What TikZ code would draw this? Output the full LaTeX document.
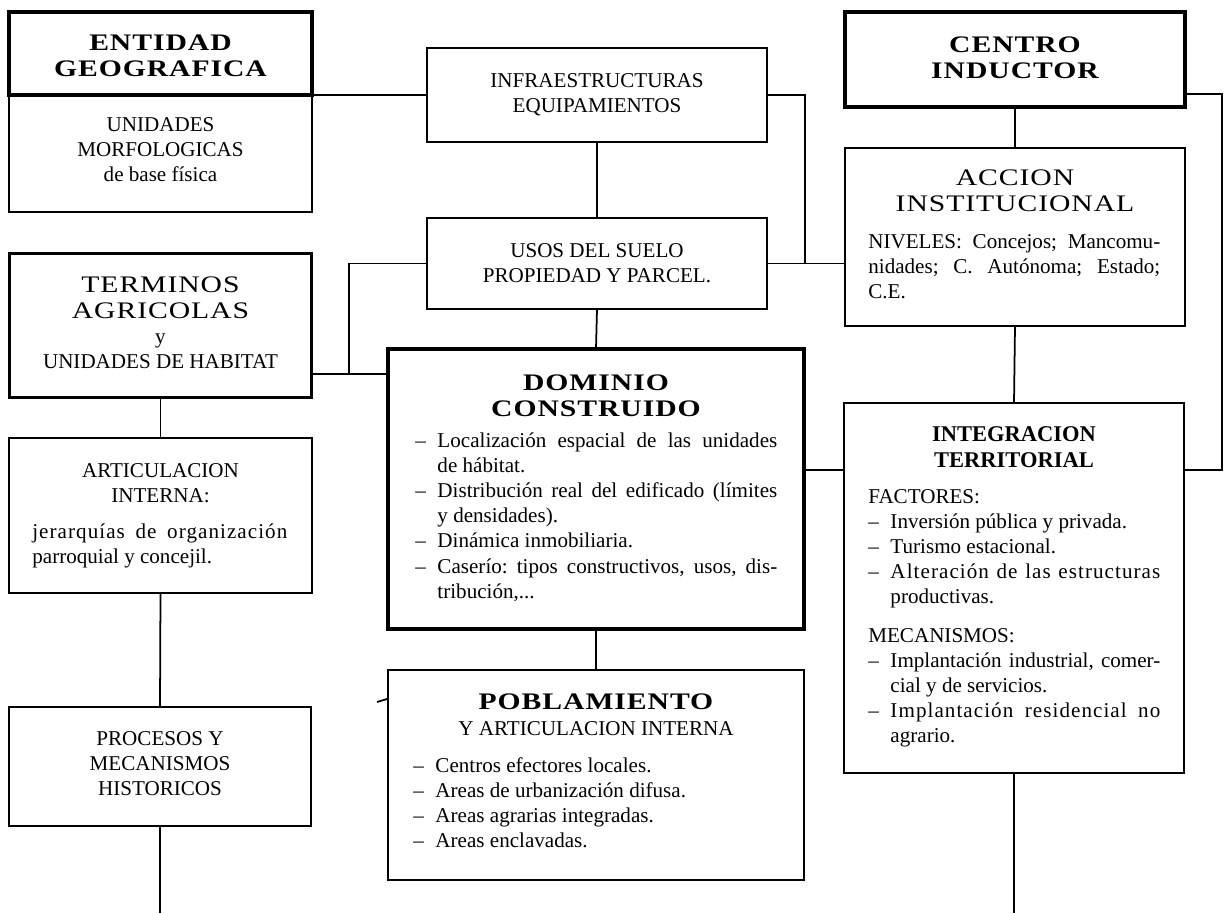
\documentclass[tikz,border=0pt]{standalone}
\usepackage{fontspec}
\setmainfont{Liberation Serif}
\newfontfamily\anchaf[FakeStretch=1.25,LetterSpace=4]{Liberation Serif}
\newfontfamily\espaciada[LetterSpace=5]{Liberation Serif}
\newcommand\cuerpo{\fontsize{12}{14.35}\selectfont}
\newcommand\titulo{\anchaf\bfseries\fontsize{13.5}{15.3}\selectfont}
\newcommand\tituloreg{\anchaf\fontsize{13.5}{14.8}\selectfont}
\newcommand\titulob{\bfseries\fontsize{12.8}{14.8}\selectfont}
\newcommand\esp{\spaceskip=.25em\relax\frenchspacing}
\newcommand\lleno[2]{\leavevmode\hbox to #1{\spaceskip=.25em plus 1em\relax #2}}
\newcommand\guion[1]{\makebox[1.05em][l]{–}#1}
\newcommand\guionlleno[2]{\leavevmode\hbox to #1{\spaceskip=.25em plus 1em\relax\makebox[1.05em][l]{–}#2}}
\newcommand\sigue[1]{\hspace*{1.05em}#1}

\begin{document}
\begin{tikzpicture}[x=0.02cm, y=-0.02cm,
    caja/.style={draw, line width=1.1pt, inner sep=0pt, outer sep=0pt},
    gruesa/.style={caja, line width=1.8pt},
    linea/.style={line width=1pt},
    txt/.style={inner sep=0pt, anchor=base, text width=#1, align=center, font=\cuerpo,
        execute at begin node=\esp},
    txt/.default=6cm,
    lista/.style={inner sep=0pt, anchor=base west, text width=#1, align=left, font=\cuerpo,
        execute at begin node=\esp}]
    \useasboundingbox (0,0) rectangle (1224,913); % 画布

    % 左列
    \node (entidad) at (160.5,53.5) [gruesa, minimum width=6.06cm, minimum height=1.66cm] {}; % 实体
    \node (unidades) at (160.5,153.5) [caja, line width=1.4pt, minimum width=6.06cm, minimum height=2.34cm] {};
    \node (terminos) at (160.5,325.5) [gruesa, line width=1.7pt, minimum width=6.06cm, minimum height=2.9cm] {};
    \node (artic) at (160.5,515.5) [caja, minimum width=6.06cm, minimum height=3.1cm] {};
    \node (procesos) at (160,766.5) [caja, minimum width=6.04cm, minimum height=2.38cm] {};

    % 中列
    \node (infra) at (597,95) [caja, minimum width=6.8cm, minimum height=1.88cm] {};
    \node (usos) at (597,263.5) [caja, minimum width=6.8cm, minimum height=1.82cm] {};
    \node (dominio) at (596,489) [gruesa, line width=2.3pt, minimum width=8.32cm, minimum height=5.6cm] {}; % 主框
    \node (pobla) at (596,775) [gruesa, line width=1.5pt, minimum width=8.32cm, minimum height=4.2cm] {};

    % 右列
    \node (centro) at (1015,59.5) [gruesa, minimum width=6.8cm, minimum height=1.9cm] {};
    \node (accion) at (1015,237) [caja, minimum width=6.8cm, minimum height=3.56cm] {};
    \node (integ) at (1014,588) [caja, minimum width=6.8cm, minimum height=7.4cm] {};

    % 文字
    \node (tEntidad) at (160.5,50) [txt, font=\titulo] {ENTIDAD\\GEOGRAFICA};
    \node (tUnidades) at (160.5,131) [txt] {UNIDADES\\MORFOLOGICAS\\de base física};
    \node (tTerminos) at (160.5,292) [txt, font=\tituloreg] {TERMINOS\\AGRICOLAS};
    \node (tHabitat) at (160.5,343) [txt] {y\\UNIDADES DE HABITAT};
    \node (tArtic) at (160.5,477) [txt] {ARTICULACION\\INTERNA:};
    \node (tJerarq) at (32,538) [lista=5.1cm] {\lleno{5.1cm}{\espaciada jerarquías de organización}\\parroquial y concejil.};
    \node (tProcesos) at (160,745) [txt] {PROCESOS Y\\MECANISMOS\\HISTORICOS};

    \node (tInfra) at (597,87) [txt] {INFRAESTRUCTURAS\\EQUIPAMIENTOS};
    \node (tUsos) at (597,257) [txt] {USOS DEL SUELO\\PROPIEDAD Y PARCEL.};
    \node (tDominio) at (596,390) [txt=8cm, font=\titulo] {DOMINIO\\CONSTRUIDO};
    \node (lDominio) at (415,447) [lista=7.24cm] {%
        \guionlleno{7.24cm}{Localización espacial de las unidades}\\
        \sigue{de hábitat.}\\
        \guionlleno{7.24cm}{Distribución real del edificado (límites}\\
        \sigue{y densidades).}\\
        \guion{Dinámica inmobiliaria.}\\
        \guionlleno{7.24cm}{Caserío: tipos constructivos, usos, dis-}\\
        \sigue{tribución,...}};
    \node (tPobla) at (596,709) [txt=8cm, font=\titulo] {POBLAMIENTO};
    \node (tPobla2) at (596,735) [txt=8cm] {Y ARTICULACION INTERNA};
    \node (lPobla) at (413,772) [lista=7.24cm] {%
        \guion{Centros efectores locales.}\\
        \guion{Areas de urbanización difusa.}\\
        \guion{Areas agrarias integradas.}\\
        \guion{Areas enclavadas.}};

    \node (tCentro) at (1015,52) [txt, font=\titulo] {CENTRO\\INDUCTOR};
    \node (tAccion) at (1015,185) [txt, font=\tituloreg] {ACCION\\INSTITUCIONAL};
    \node (lAccion) at (868,248) [lista=5.84cm] {%
        \lleno{5.84cm}{NIVELES: Concejos; Mancomu-}\\
        \lleno{5.84cm}{nidades; C. Autónoma; Estado;}\\
        C.E.};
    \node (tInteg) at (1014,441) [txt, font=\titulob] {INTEGRACION\\TERRITORIAL};
    \node (lFactores) at (868,503) [lista=5.84cm] {%
        FACTORES:\\
        \guion{Inversión pública y privada.}\\
        \guion{Turismo estacional.}\\
        \guionlleno{5.84cm}{\espaciada Alteración de las estructuras}\\
        \sigue{productivas.}};
    \node (lMecan) at (868,642) [lista=5.84cm] {%
        MECANISMOS:\\
        \guionlleno{5.84cm}{Implantación industrial, comer-}\\
        \sigue{cial y de servicios.}\\
        \guionlleno{5.84cm}{\espaciada Implantación residencial no}\\
        \sigue{agrario.}};

    % 连线
    \coordinate (fondo) at (0,913);
    \coordinate (codo1) at (805,263.5);
    \coordinate (codo2) at (1222,94);
    \coordinate (codo3) at (349,374);
    \coordinate (nivelI) at (0,470);
    \draw[linea] (unidades.north east) -- (infra.west);
    \draw[linea] (infra.south) -- (usos.north);
    \draw[linea] (infra.east) -| (codo1);
    \draw[linea] (usos.east) -- (usos.east -| accion.west);
    \draw[linea] (centro.south) -- (accion.north);
    \draw[linea] (accion.south) -- (integ.north);
    \draw[linea] (codo2 -| centro.east) -- (codo2) |- (integ.east |- nivelI);
    \draw[linea] (dominio.east |- nivelI) -- (integ.west |- nivelI);
    \draw[linea] (integ.south) -- (integ.south |- fondo);
    \draw[linea] (codo3 -| terminos.east) -- (codo3 -| dominio.west);
    \draw[linea] (usos.west) -| (codo3);
    \draw[linea] (usos.south) -- (dominio.north);
    \draw[linea] (dominio.south) -- (pobla.north);
    \draw[linea] (terminos.south) -- (artic.north);
    \draw[linea] (artic.south) -- (procesos.north);
    \draw[linea] (procesos.south) -- (procesos.south |- fondo);
    \draw[line width=1pt] (377,702) -- (387,699); % 小记号
\end{tikzpicture}
\end{document}
